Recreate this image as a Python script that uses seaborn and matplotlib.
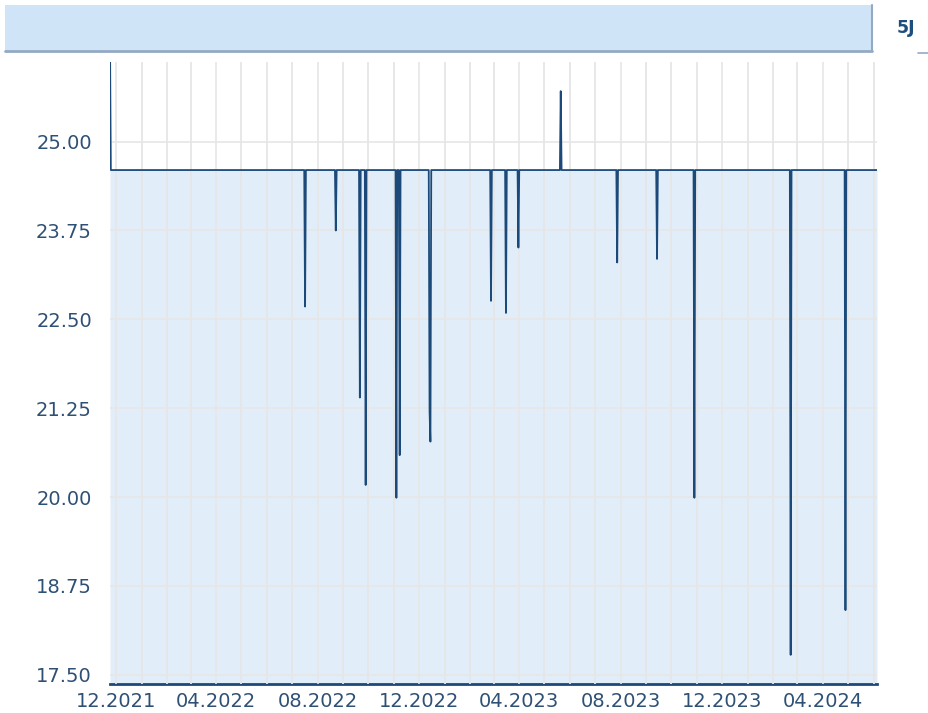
import matplotlib
matplotlib.use("Agg")
import matplotlib.pyplot as plt
import matplotlib.dates as mdates
from matplotlib.patches import Rectangle
from matplotlib.lines import Line2D
import seaborn as sns
import pandas as pd
import numpy as np

# ---- data ----
start_date = "2021-11-24"
end_date = "2024-06-05"
start_value = 26.4
base_value = 24.6
dip_dates = ["2022-07-17", "2022-08-23", "2022-09-21", "2022-09-28",
             "2022-11-04", "2022-11-08", "2022-12-14", "2022-12-15",
             "2023-02-26", "2023-03-16", "2023-03-31", "2023-05-21",
             "2023-07-28", "2023-09-14", "2023-10-29", "2024-02-22",
             "2024-04-28"]
dip_values = [22.68, 23.75, 21.40, 20.17,
              19.99, 20.59, 21.20, 20.78,
              22.76, 22.59, 23.51, 25.71,
              23.30, 23.35, 19.99, 17.78,
              18.41]
y_ticks = [17.50, 18.75, 20.00, 21.25, 22.50, 23.75, 25.00]
x_tick_labels = ["12.2021", "04.2022", "08.2022", "12.2022",
                 "04.2023", "08.2023", "12.2023", "04.2024"]
badge_text = "5J"

# build daily series
dates = pd.date_range(start_date, end_date, freq="D")
values = pd.Series(base_value, index=dates)
values.iloc[0] = start_value
for d, v in zip(dip_dates, dip_values):
    values.loc[pd.Timestamp(d)] = v
df = pd.DataFrame({"date": dates, "value": values.values})

LINE = "#1b4a7a"
FILL = "#e1edf8"
TEXT = "#2f5075"
GRID = "#e6e6e6"

sns.set_style("white")
plt.rcParams["font.family"] = ["DejaVu Sans"]

fig = plt.figure(figsize=(9.29, 7.13), dpi=100)
W, H = 929, 713
ax = fig.add_axes([110 / W, 1 - 684 / H, (877 - 110) / W, (684 - 62) / H])

ymin, ymax = 17.37, 26.12
ax.set_ylim(ymin, ymax)
ax.set_xlim(pd.Timestamp(start_date), pd.Timestamp(end_date))

ax.fill_between(df["date"], df["value"], ymin, color=FILL, linewidth=0, zorder=1)
sns.lineplot(data=df, x="date", y="value", ax=ax, color=LINE, linewidth=1.3,
             zorder=3, estimator=None)

# ticks / grid
ax.set_yticks(y_ticks)
ax.set_yticklabels([f"{t:.2f}" for t in y_ticks])
tick_dates = pd.to_datetime(["01." + s for s in x_tick_labels], format="%d.%m.%Y")
ax.set_xticks(tick_dates)
ax.set_xticklabels(x_tick_labels)
ax.xaxis.set_minor_locator(mdates.MonthLocator())
ax.grid(True, which="both", axis="x", color=GRID, linewidth=1.3, zorder=0)
ax.grid(True, which="major", axis="y", color=GRID, linewidth=1.3, zorder=0)
ax.set_axisbelow(False)
for gl in ax.get_xgridlines() + ax.get_ygridlines():
    gl.set_zorder(2)
    gl.set_alpha(0.9)

ax.tick_params(axis="both", which="both", length=0, labelsize=14, colors=TEXT)
ax.tick_params(axis="y", pad=13)
ax.tick_params(axis="x", pad=6)
ax.set_xlabel("")
ax.set_ylabel("")

for s in ["top", "right", "left"]:
    ax.spines[s].set_visible(False)
ax.spines["bottom"].set_color(LINE)
ax.spines["bottom"].set_linewidth(2)

# header band
fig.patches.append(Rectangle((5 / W, 1 - 51 / H), (872 - 5) / W, (51 - 5) / H,
                             transform=fig.transFigure, facecolor="#cfe4f7",
                             edgecolor="none", zorder=0))
fig.lines.append(Line2D([5 / W, 872 / W], [1 - 51 / H, 1 - 51 / H],
                        transform=fig.transFigure, color="#93aac3", linewidth=2))
fig.lines.append(Line2D([872 / W, 872 / W], [1 - 5 / H, 1 - 51 / H],
                        transform=fig.transFigure, color="#93aac3", linewidth=1.5))
fig.lines.append(Line2D([918 / W, 929 / W], [1 - 53 / H, 1 - 53 / H],
                        transform=fig.transFigure, color="#93aac3", linewidth=1.2))
fig.text(906 / W, 1 - 28 / H, badge_text, ha="center", va="center",
         fontsize=12.5, fontweight="bold", color="#1d4f7c")

fig.savefig("out.png", dpi=100, facecolor="white")
